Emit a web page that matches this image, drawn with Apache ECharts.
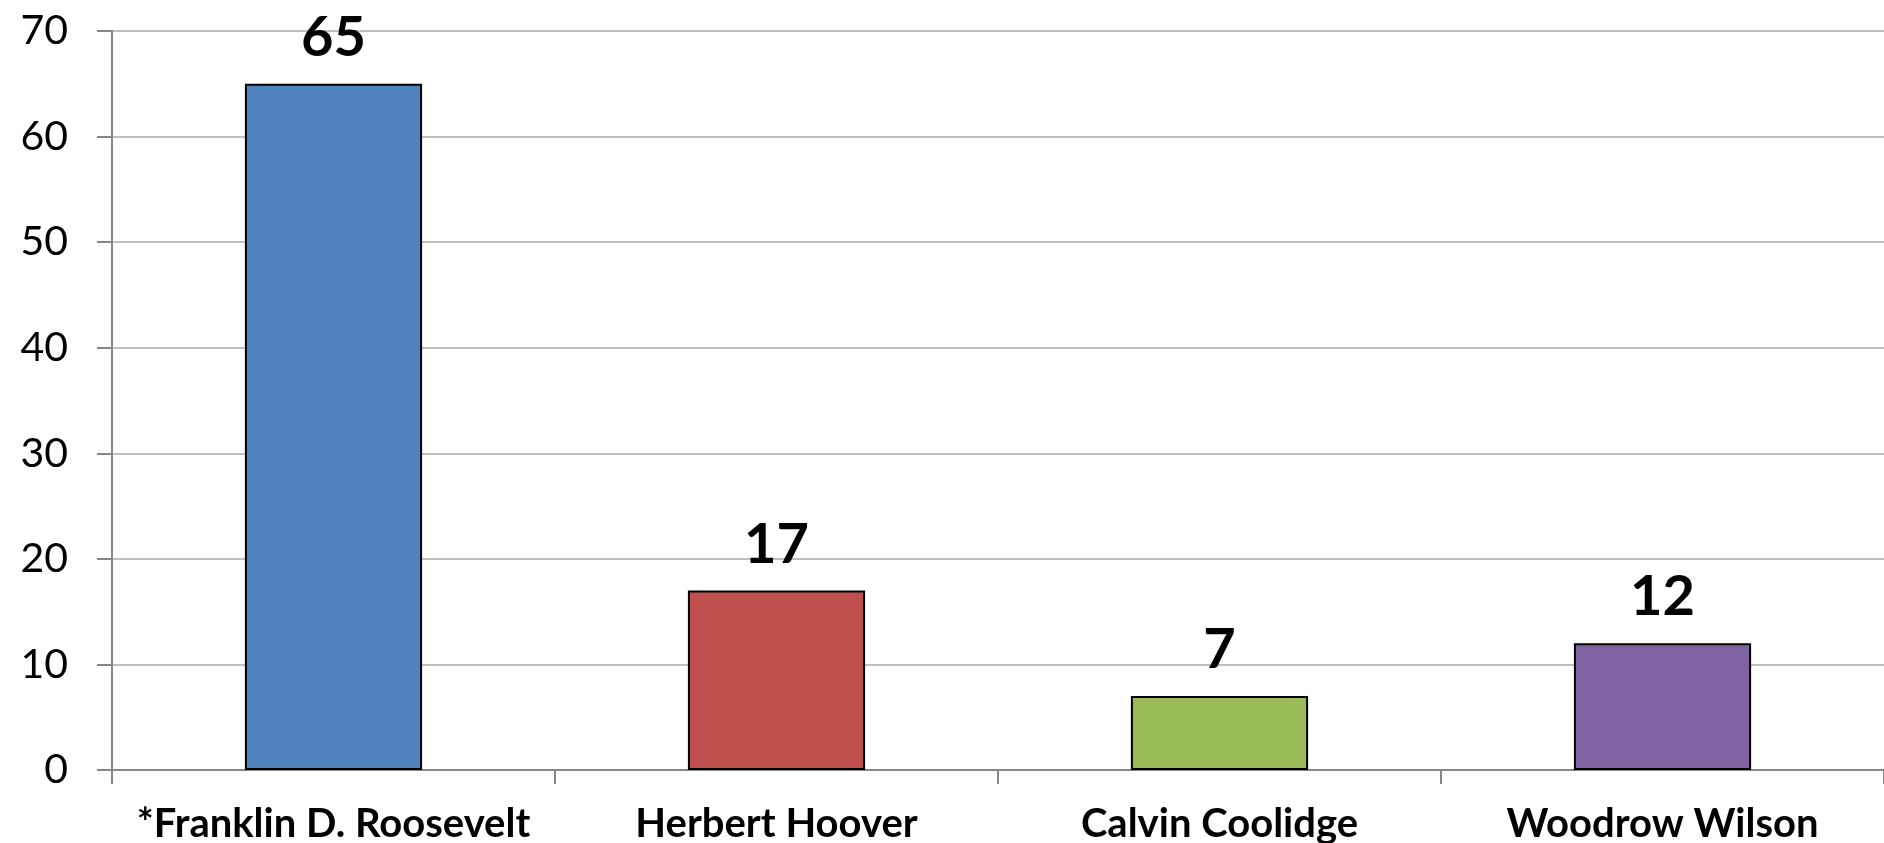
<!DOCTYPE html>
<html>
<head>
<meta charset="utf-8">
<script src="https://cdn.jsdelivr.net/npm/echarts@6/dist/echarts.min.js"></script>
<style>
  html, body { margin: 0; padding: 0; background: #fff; }
  #main { width: 1884px; height: 843px; }
</style>
</head>
<body>
<div id="main"></div>
<script>
var presidents = ['*Franklin D. Roosevelt', 'Herbert Hoover', 'Calvin Coolidge', 'Woodrow Wilson'];
var counts = [65, 17, 7, 12];
var barColors = ['#4f81bd', '#c0504d', '#9bbb59', '#8064a2'];

var chart = echarts.init(document.getElementById('main'));
var option = {
  animation: false,
  grid: {
    left: 112,
    right: 0,
    top: 31,
    bottom: 73,
    containLabel: false,
    outerBoundsMode: 'none'
  },
  xAxis: {
    type: 'category',
    data: presidents,
    axisLine: { lineStyle: { color: '#868686', width: 2 } },
    axisTick: { show: true, interval: 0, length: 14, lineStyle: { color: '#868686', width: 2 } },
    axisLabel: {
      interval: 0,
      margin: 34,
      color: '#000',
      fontFamily: 'Lato',
      fontWeight: 'bold',
      fontSize: 40
    }
  },
  yAxis: {
    type: 'value',
    min: 0,
    max: 70,
    interval: 10,
    axisLine: { show: true, lineStyle: { color: '#868686', width: 2 } },
    axisTick: { show: true, length: 15, lineStyle: { color: '#868686', width: 2 } },
    splitLine: { lineStyle: { color: '#bfbfbf', width: 2 } },
    axisLabel: {
      margin: 44,
      color: '#000',
      fontFamily: 'Lato',
      fontSize: 41
    }
  },
  series: [{
    type: 'bar',
    barCategoryGap: '60%',
    data: counts.map(function (v, i) {
      return { value: v, itemStyle: { color: barColors[i] } };
    }),
    itemStyle: { borderColor: '#000', borderWidth: 2 },
    label: {
      show: true,
      position: 'top',
      distance: 18,
      color: '#000',
      fontFamily: 'Lato',
      fontWeight: 'bold',
      fontSize: 56
    }
  }]
};
chart.setOption(option);
</script>
</body>
</html>
